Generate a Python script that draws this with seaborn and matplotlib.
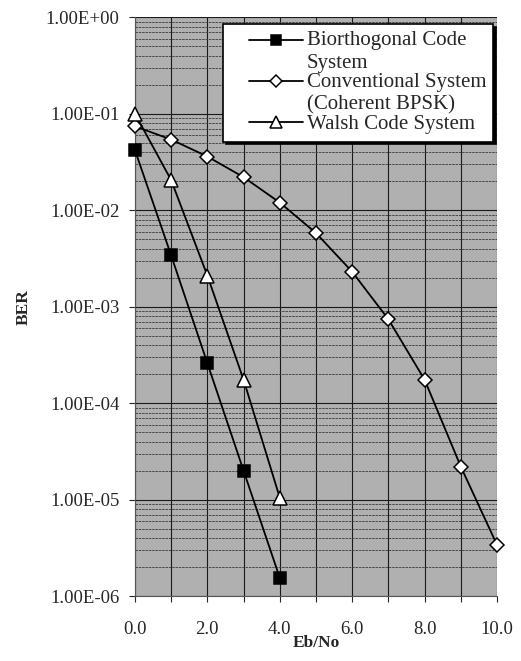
import numpy as np
import pandas as pd
import matplotlib
matplotlib.use("Agg")
import matplotlib.pyplot as plt
import seaborn as sns
from matplotlib.ticker import FixedLocator, FuncFormatter, NullFormatter
from matplotlib.legend_handler import HandlerLine2D

# --- data ---
ebno = [0, 1, 2, 3, 4, 5, 6, 7, 8, 9, 10]
ber_bio = [4.2e-2, 3.4e-3, 2.6e-4, 2.0e-5, 1.55e-6]
ber_conv = [7.4e-2, 5.4e-2, 3.6e-2, 2.2e-2, 1.2e-2, 5.8e-3, 2.3e-3, 7.4e-4, 1.75e-4, 2.2e-5, 3.4e-6]
ber_walsh = [1.0e-1, 2.05e-2, 2.1e-3, 1.75e-4, 1.05e-5]

labels = ["Biorthogonal Code\nSystem", "Conventional System\n(Coherent BPSK)", "Walsh Code System"]
y_decades = [1e-6, 1e-5, 1e-4, 1e-3, 1e-2, 1e-1, 1e0]

df = pd.concat([
    pd.DataFrame({"x": ebno[:len(ber_bio)], "y": ber_bio, "s": labels[0]}),
    pd.DataFrame({"x": ebno, "y": ber_conv, "s": labels[1]}),
    pd.DataFrame({"x": ebno[:len(ber_walsh)], "y": ber_walsh, "s": labels[2]}),
])


class TopLineHandler(HandlerLine2D):
    # put the legend symbol next to the first line of a two-line label
    def __init__(self, shift=0.0, **kw):
        super().__init__(**kw)
        self.shift = shift

    def create_artists(self, legend, orig_handle, xdescent, ydescent, width, height, fontsize, trans):
        arts = super().create_artists(legend, orig_handle, xdescent, ydescent, width, height, fontsize, trans)
        for a in arts:
            a.set_ydata(np.asarray(a.get_ydata()) + self.shift * fontsize)
        return arts


sns.set_style("ticks")
plt.rcParams["font.family"] = ["Liberation Serif", "DejaVu Serif"]

fig = plt.figure(figsize=(5.21, 6.61), dpi=100)
ax = fig.add_axes([0.259, 0.098, 0.695, 0.876])
ax.set_facecolor("#b0b0b0")

styles = {
    labels[0]: dict(marker="s", markersize=9, markerfacecolor="black"),
    labels[1]: dict(marker="D", markersize=7.5, markerfacecolor="white"),
    labels[2]: dict(marker="^", markersize=10, markerfacecolor="white"),
}
for name in labels:
    sub = df[df["s"] == name]
    sns.lineplot(data=sub, x="x", y="y", ax=ax, color="black", linewidth=1.3,
                 markeredgecolor="black", markeredgewidth=1.1, label=name,
                 clip_on=False, zorder=5, **styles[name])

ax.set_yscale("log")
ax.set_ylim(y_decades[0], y_decades[-1])
ax.set_xlim(0, 10)

ax.xaxis.set_major_locator(FixedLocator([0, 2, 4, 6, 8, 10]))
ax.xaxis.set_minor_locator(FixedLocator([1, 3, 5, 7, 9]))
ax.xaxis.set_minor_formatter(NullFormatter())
ax.xaxis.set_major_formatter(FuncFormatter(lambda v, p: f"{v:.1f}"))
ax.yaxis.set_major_locator(FixedLocator(y_decades))
minor_y = [d * k for d in y_decades[:-1] for k in range(2, 10)]
ax.yaxis.set_minor_locator(FixedLocator(minor_y))
ax.yaxis.set_minor_formatter(NullFormatter())
ax.yaxis.set_major_formatter(FuncFormatter(lambda v, p: f"{v:.2E}"))

ax.grid(True, which="major", axis="both", color="#1a1a1a", linewidth=0.8)
ax.grid(True, which="minor", axis="x", color="#1a1a1a", linewidth=0.8)
ax.grid(True, which="minor", axis="y", color="#3a3a3a", linewidth=0.6, linestyle=(0, (3, 1)))

ax.tick_params(axis="both", which="major", labelsize=13.5, length=4, width=0.8, direction="out")
ax.tick_params(axis="x", which="major", pad=14)
ax.tick_params(axis="y", which="major", pad=7)
ax.tick_params(axis="y", which="minor", length=0)
ax.tick_params(axis="x", which="minor", length=4, width=0.8)
for sp in ["top", "right"]:
    ax.spines[sp].set_visible(False)
ax.spines["left"].set_color("#555555")
ax.spines["bottom"].set_color("#555555")

ax.set_xlabel("Eb/No", fontsize=12.5, fontweight="bold", labelpad=-2)
ax.set_ylabel("BER", fontsize=12.5, fontweight="bold", labelpad=10)

handles, names = ax.get_legend_handles_labels()
hmap = {h: TopLineHandler(shift=0.58 if "\n" in n else 0.0, xpad=0.9)
        for h, n in zip(handles, names)}
leg = ax.legend(handles, names, handler_map=hmap, loc="upper right",
                bbox_to_anchor=(0.99, 0.988), fontsize=15,
                frameon=True, fancybox=False, shadow={"color": "black", "alpha": 1.0},
                framealpha=1.0, edgecolor="black", handlelength=3.5, handletextpad=0.15,
                labelspacing=0.0, borderpad=0.35, borderaxespad=0.0, markerscale=0.85)
leg.get_frame().set_linewidth(1.2)
for t in leg.get_texts():
    t.set_linespacing(1.25)

fig.savefig("out.png", dpi=100)
